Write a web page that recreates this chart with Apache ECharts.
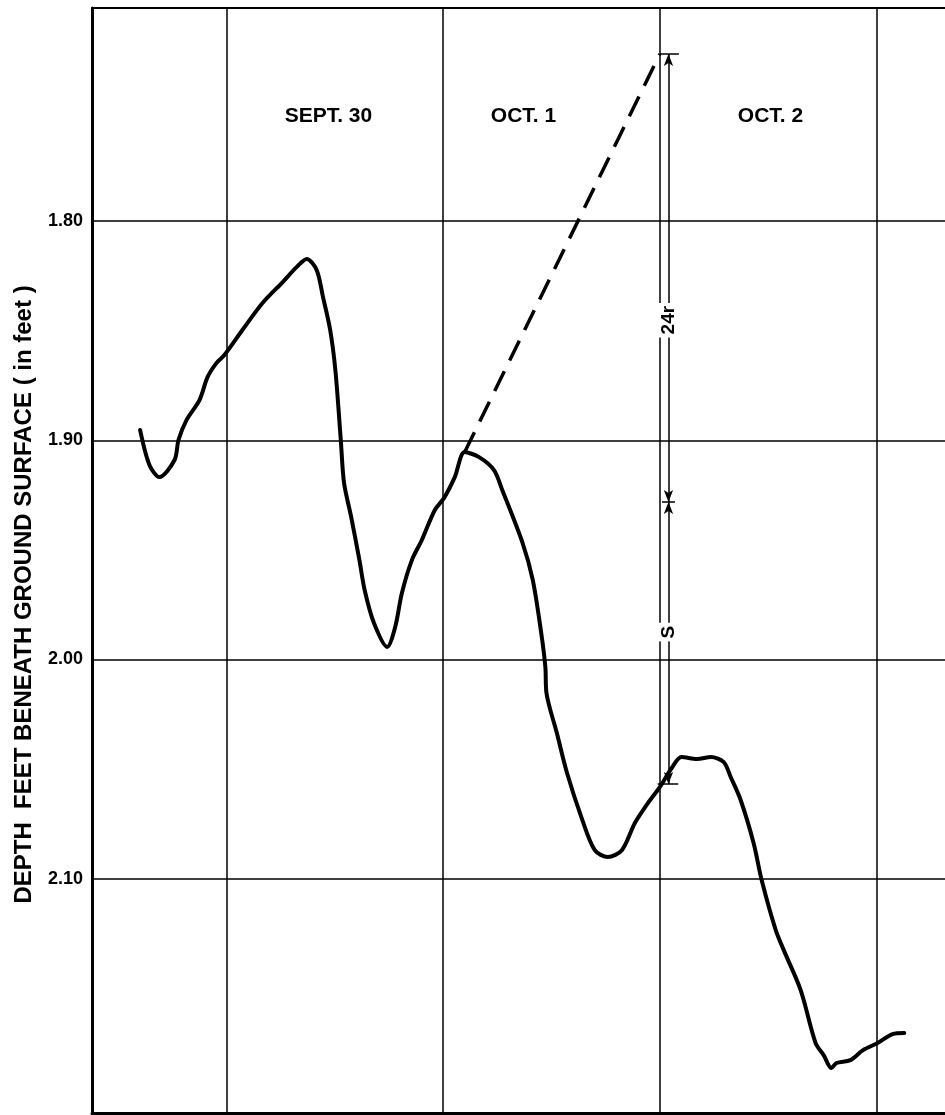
<!DOCTYPE html>
<html><head><meta charset="utf-8">
<script src="https://cdn.jsdelivr.net/npm/echarts@6/dist/echarts.min.js"></script>
<style>html,body{margin:0;padding:0;background:#fff}#c{width:945px;height:1115px}</style>
</head><body><div id="c"></div>
<script>
// ---- data (x: days since Sept 30 00:00, y: depth in feet) ----
const dayTicks = [0, 1, 2, 3];
const dayLabels = ['SEPT. 30', 'OCT. 1', 'OCT. 2'];
const dayLabelX = [0.471, 1.371, 2.511];
const dayLabelDepth = 1.752;
const depthTicks = [1.80, 1.90, 2.00, 2.10];

const timeDays = [-0.398,-0.355,-0.309,-0.239,-0.221,-0.184,-0.124,-0.087,-0.046,-0.009,
  0.074,0.167,0.260,0.324,0.371,0.417,0.446,0.479,0.503,0.528,
  0.543,0.576,0.614,0.638,0.681,0.742,0.779,0.810,0.856,0.902,
  0.962,1.004,1.054,1.100,1.166,1.235,1.273,1.367,1.414,1.453,
  1.472,1.477,1.525,1.572,1.638,1.700,1.760,1.825,1.885,1.945,
  2.000,2.055,2.100,2.172,2.236,2.295,2.327,2.373,2.433,2.470,
  2.535,2.572,2.650,2.719,2.756,2.792,2.815,2.879,2.938,3.005,
  3.074,3.128];
const depthFt = [1.8953,1.9113,1.9168,1.9090,1.8999,1.8908,1.8817,1.8712,1.8648,1.8611,
  1.8497,1.8374,1.8278,1.8210,1.8173,1.8224,1.8347,1.8497,1.8680,1.8999,
  1.9195,1.9350,1.9547,1.9683,1.9834,1.9943,1.9852,1.9697,1.9547,1.9455,
  1.9318,1.9264,1.9168,1.9054,1.9077,1.9136,1.9227,1.9469,1.9638,1.9880,
  2.0035,2.0153,2.0336,2.0518,2.0719,2.0870,2.0901,2.0870,2.0746,2.0655,
  2.0582,2.0495,2.0445,2.0454,2.0445,2.0468,2.0536,2.0641,2.0838,2.1006,
  2.1235,2.1326,2.1508,2.1750,2.1805,2.1864,2.1841,2.1828,2.1782,2.1750,
  2.1709,2.1704];

const trendTime = [1.100, 2.0];
const trendDepth = [1.9054, 1.7238];

const annotX = 2.04;
const annotDepths = [1.7238, 1.9282, 2.0568];
const annotTickFrom = [2.0, 2.01, 1.99];
const annotTickTo = [2.088, 2.07, 2.085];
const annotLabels = ['24r', 'S'];
const annotLabelDepth = [1.8452, 1.9875];

// ---- chart ----
const FONT = '"Liberation Sans", Arial, Helvetica, sans-serif';
const chart = echarts.init(document.getElementById('c'), null, {renderer: 'canvas'});

const arrowSegs = [];
for (let i = 0; i < annotDepths.length - 1; i++) {
  arrowSegs.push([
    {coord: [annotX, annotDepths[i]], symbol: 'arrow', symbolSize: [7, 12]},
    {coord: [annotX, annotDepths[i + 1]], symbol: 'arrow', symbolSize: [7, 12]}
  ]);
}
const tickSegs = annotDepths.map((d, i) => [
  {coord: [annotTickFrom[i], d], symbol: 'none'},
  {coord: [annotTickTo[i], d], symbol: 'none'}
]);

const labelBase = {
  show: true, position: 'inside', color: '#000', opacity: 1, fontFamily: FONT, fontWeight: 'bold',
  textBorderWidth: 0, textBorderColor: 'transparent', textShadowBlur: 0
};

const option = {
  animation: false,
  backgroundColor: '#fff',
  grid: {left: 92, right: 0, top: 8, bottom: 2},
  xAxis: [{
    type: 'value', min: -0.62, max: 3.316, position: 'bottom',
    axisLine: {show: true, onZero: false, lineStyle: {color: '#000', width: 3}},
    axisTick: {show: false, customValues: dayTicks},
    axisLabel: {show: false, customValues: dayTicks},
    splitLine: {show: true, lineStyle: {color: '#000', width: 1.5}}
  }, {
    type: 'value', min: -0.62, max: 3.316, position: 'top',
    axisLine: {show: true, onZero: false, lineStyle: {color: '#000', width: 2}},
    axisTick: {show: false}, axisLabel: {show: false}, splitLine: {show: false}
  }],
  yAxis: {
    type: 'value', inverse: true, min: 1.7028, max: 2.2069,
    axisLine: {show: true, onZero: false, lineStyle: {color: '#000', width: 3}},
    axisTick: {show: false, customValues: depthTicks},
    axisLabel: {show: true, customValues: depthTicks, formatter: v => Number(v).toFixed(2),
      color: '#000', fontFamily: FONT, fontWeight: 'bold', fontSize: 18, margin: 9},
    splitLine: {show: true, lineStyle: {color: '#000', width: 1.5}},
    name: 'DEPTH  FEET BENEATH GROUND SURFACE ( in feet )',
    nameLocation: 'middle', nameRotate: 90, nameGap: 56,
    nameTextStyle: {color: '#000', fontFamily: FONT, fontWeight: 'bold', fontSize: 24, padding: [0, 68, 0, 0]}
  },
  series: [{
    name: 'depth', type: 'line', xAxisIndex: 0,
    data: timeDays.map((t, i) => [t, depthFt[i]]),
    smooth: 0.3, symbol: 'none', silent: true,
    lineStyle: {color: '#000', width: 4, cap: 'round', join: 'round'}
  }, {
    name: 'trend', type: 'line', xAxisIndex: 0,
    data: trendTime.map((t, i) => [t, trendDepth[i]]),
    symbol: 'none', silent: true,
    lineStyle: {color: '#000', width: 3.5, type: [22, 12]},
    markLine: {
      silent: true, animation: false,
      label: {show: false},
      lineStyle: {color: '#000', width: 1.5, type: 'solid'},
      itemStyle: {color: '#000'},
      data: arrowSegs.concat(tickSegs)
    }
  }, {
    name: 'annot', type: 'scatter', xAxisIndex: 0, z: 10,
    data: annotLabelDepth.map((d, i) => [annotX, d, annotLabels[i]]),
    symbol: 'circle', symbolSize: 1, itemStyle: {color: 'rgba(0,0,0,0)', opacity: 1}, silent: true,
    label: Object.assign({}, labelBase, {rotate: 90, fontSize: 19, formatter: p => p.data[2],
      backgroundColor: '#fff', padding: [6, 3]})
  }, {
    name: 'days', type: 'scatter', xAxisIndex: 0, z: 10,
    data: dayLabelX.map((x, i) => [x, dayLabelDepth, dayLabels[i]]),
    symbol: 'circle', symbolSize: 1, itemStyle: {color: 'rgba(0,0,0,0)', opacity: 1}, silent: true,
    label: Object.assign({}, labelBase, {fontSize: 21, formatter: p => p.data[2]})
  }]
};
chart.setOption(option);
</script></body></html>
